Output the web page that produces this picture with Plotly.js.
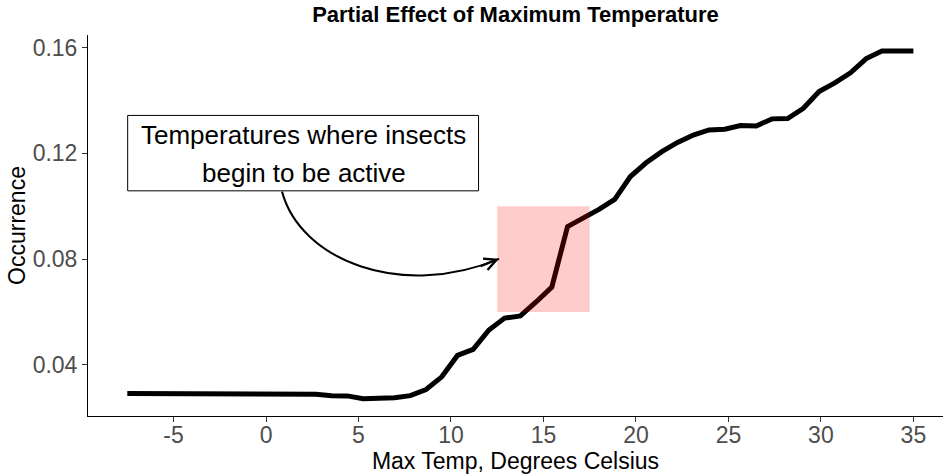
<!DOCTYPE html>
<html><head><meta charset="utf-8">
<script src="https://cdn.plot.ly/plotly-3.0.1.min.js"></script>
<style>html,body{margin:0;padding:0;background:#fff}#chart{width:943px;height:474px}</style>
</head><body><div id="chart"></div>
<script>
const tempX = [-7.5, -6.65, -5.8, -4.95, -4.1, -3.25, -2.4, -1.55, -0.7, 0.15, 1.0, 1.85, 2.7, 3.55, 4.4, 5.25, 6.1, 6.95, 7.8, 8.65, 9.5, 10.35, 11.2, 12.05, 12.9, 13.75, 14.6, 15.45, 16.3, 17.15, 18.0, 18.85, 19.7, 20.55, 21.4, 22.25, 23.1, 23.95, 24.8, 25.65, 26.5, 27.35, 28.2, 29.05, 29.9, 30.75, 31.6, 32.45, 33.3, 34.15, 35.0];
const occurrence = [0.0292, 0.0292, 0.0292, 0.0292, 0.0292, 0.0292, 0.0292, 0.0292, 0.0292, 0.0292, 0.0292, 0.0292, 0.0289, 0.0284, 0.0283, 0.0272, 0.0273, 0.0276, 0.0284, 0.0307, 0.0355, 0.0436, 0.0459, 0.0532, 0.0577, 0.0585, 0.0638, 0.0694, 0.0923, 0.0955, 0.0988, 0.1026, 0.1112, 0.1164, 0.1206, 0.1241, 0.1269, 0.1288, 0.1291, 0.1305, 0.1303, 0.1330, 0.1331, 0.1370, 0.1433, 0.1466, 0.1504, 0.1558, 0.1587, 0.1587, 0.1587];
const xTickVals = [-5, 0, 5, 10, 15, 20, 25, 30, 35];
const xTickText = ['-5', '0', '5', '10', '15', '20', '25', '30', '35'];
const yTickVals = [0.04, 0.08, 0.12, 0.16];
const yTickText = ['0.04', '0.08', '0.12', '0.16'];
const highlightX = [12.5, 17.5];
const highlightY = [0.06, 0.10];
const labelLines = ['Temperatures where insects', 'begin to be active'];
const chartTitle = 'Partial Effect of Maximum Temperature';
const xTitle = 'Max Temp, Degrees Celsius';
const yTitle = 'Occurrence';

const FONT = 'Liberation Sans, Arial, sans-serif';

const trace = {
  x: tempX, y: occurrence, type: 'scatter', mode: 'lines',
  line: {color: '#000000', width: 5}, hoverinfo: 'skip'
};

const layout = {
  width: 943, height: 474,
  margin: {l: 88, r: 0, t: 35, b: 58, pad: 0},
  paper_bgcolor: '#ffffff', plot_bgcolor: '#ffffff',
  showlegend: false,
  font: {family: FONT},
  title: {text: '<b>' + chartTitle + '</b>', font: {family: FONT, size: 22, color: '#000000'},
          x: 0.5, xref: 'paper', xanchor: 'center', y: 0.97, yref: 'container', yanchor: 'middle'},
  xaxis: {
    range: [-9.625, 36.6], showline: true, linecolor: '#000000', linewidth: 1,
    ticks: 'outside', ticklen: 5, tickwidth: 1, tickcolor: '#333333',
    tickvals: xTickVals, ticktext: xTickText, ticklabelstandoff: -7,
    tickfont: {family: FONT, size: 23, color: '#4d4d4d'},
    showgrid: false, zeroline: false,
    title: {text: xTitle, font: {family: FONT, size: 23, color: '#000000'}, standoff: 2}
  },
  yaxis: {
    range: [0.0207, 0.1647], showline: true, linecolor: '#000000', linewidth: 1,
    ticks: 'outside', ticklen: 5, tickwidth: 1, tickcolor: '#333333',
    tickvals: yTickVals, ticktext: yTickText,
    tickfont: {family: FONT, size: 23, color: '#4d4d4d'},
    showgrid: false, zeroline: false,
    title: {text: yTitle, font: {family: FONT, size: 23, color: '#000000'}, standoff: 0}
  },
  shapes: [
    {type: 'rect', xref: 'x', yref: 'y', x0: highlightX[0], x1: highlightX[1], y0: highlightY[0], y1: highlightY[1],
     fillcolor: 'rgba(255,0,0,0.2)', line: {width: 0}, layer: 'above'},
    {type: 'rect', xref: 'x', yref: 'y', x0: -7.48, x1: 11.49, y0: 0.1058, y1: 0.1343,
     fillcolor: '#ffffff', line: {color: '#000000', width: 1}, layer: 'above'},
    {type: 'path', xref: 'x', yref: 'y', path: 'M 0.865,0.1055 C 1.854,0.0797 7.26,0.0646 12.6,0.0801',
     line: {color: '#000000', width: 2}, layer: 'above'}
  ],
  annotations: [
    {x: 2.05, y: 0.127, xref: 'x', yref: 'y', text: labelLines[0], showarrow: false,
     font: {family: FONT, size: 26, color: '#000000'}, xanchor: 'center', yanchor: 'middle'},
    {x: 2.05, y: 0.1125, xref: 'x', yref: 'y', text: labelLines[1], showarrow: false,
     font: {family: FONT, size: 26, color: '#000000'}, xanchor: 'center', yanchor: 'middle'},
    {x: 12.6, y: 0.0801, xref: 'x', yref: 'y', text: '', showarrow: true,
     ax: -20, ay: 8, arrowhead: 5, arrowwidth: 2, arrowsize: 1.2, arrowcolor: '#000000', standoff: 0}
  ]
};

Plotly.newPlot('chart', [trace], layout, {staticPlot: true, displayModeBar: false});
</script>
</body></html>
